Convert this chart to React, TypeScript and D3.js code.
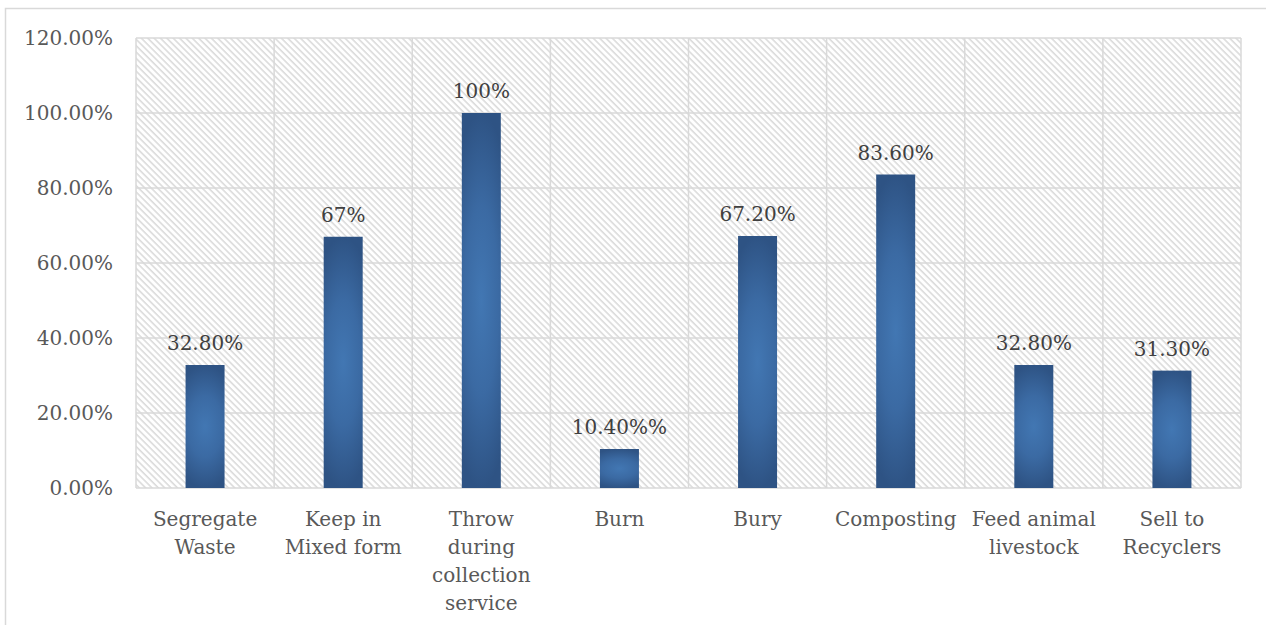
import React, { useEffect, useRef } from "react";
import * as d3 from "d3";

const categories: string[][] = [
  ["Segregate", "Waste"],
  ["Keep in", "Mixed form"],
  ["Throw", "during", "collection", "service"],
  ["Burn"],
  ["Bury"],
  ["Composting"],
  ["Feed animal", "livestock"],
  ["Sell to", "Recyclers"],
];
const values: number[] = [32.8, 67, 100, 10.4, 67.2, 83.6, 32.8, 31.3];
const valueLabels: string[] = ["32.80%", "67%", "100%", "10.40%%", "67.20%", "83.60%", "32.80%", "31.30%"];
const yTicks: number[] = [0, 20, 40, 60, 80, 100, 120];

const W = 1266;
const H = 625;
const FONT = "'DejaVu Serif', serif";

export default function App() {
  const ref = useRef<SVGSVGElement | null>(null);

  useEffect(() => {
    const svg = d3.select(ref.current);
    svg.selectAll("*").remove();

    const left = 136, right = 1241, top = 38, bottom = 488;
    const x = d3.scaleBand<number>().domain(d3.range(categories.length)).range([left, right]).paddingInner(0).paddingOuter(0);
    const y = d3.scaleLinear().domain([0, 120]).range([bottom, top]);
    const barW = 39;

    const defs = svg.append("defs");
    const pat = defs.append("pattern")
      .attr("id", "hatch")
      .attr("patternUnits", "userSpaceOnUse")
      .attr("width", 4.5)
      .attr("height", 4.5)
      .attr("patternTransform", "rotate(-45)");
    pat.append("rect").attr("width", 4.5).attr("height", 4.5).attr("fill", "#ffffff");
    pat.append("line").attr("x1", 1).attr("y1", 0).attr("x2", 1).attr("y2", 4.5)
      .attr("stroke", "#d9d9d9").attr("stroke-width", 1.5);

    // bar fill: light centre fading to dark, mostly toward top and bottom
    const grad = defs.append("radialGradient")
      .attr("id", "barGrad")
      .attr("cx", 0.5).attr("cy", 0.5).attr("r", 0.5)
      .attr("gradientTransform", "translate(0.5,0.5) scale(1.8,1) translate(-0.5,-0.5)");
    grad.append("stop").attr("offset", "0%").attr("stop-color", "#4277b3");
    grad.append("stop").attr("offset", "50%").attr("stop-color", "#3b6aa3");
    grad.append("stop").attr("offset", "100%").attr("stop-color", "#2e5384");

    // outer chart frame
    svg.append("rect")
      .attr("x", 5.5).attr("y", 8.5).attr("width", 1280).attr("height", 640)
      .attr("fill", "#ffffff").attr("stroke", "#d9d9d9").attr("stroke-width", 1.5);

    // plot area with diagonal hatch
    svg.append("rect")
      .attr("x", left).attr("y", top).attr("width", right - left).attr("height", bottom - top)
      .attr("fill", "url(#hatch)");

    const grid = svg.append("g").attr("stroke", "#d9d9d9").attr("stroke-width", 1.5);
    yTicks.forEach((t) => {
      grid.append("line").attr("x1", left).attr("x2", right).attr("y1", y(t)).attr("y2", y(t));
    });
    const bounds = [...x.domain().map((i) => x(i) as number), right];
    bounds.forEach((bx) => {
      grid.append("line").attr("x1", bx).attr("x2", bx).attr("y1", top).attr("y2", bottom);
    });

    // y tick labels
    svg.append("g").selectAll("text").data(yTicks).join("text")
      .attr("x", 113).attr("y", (d) => y(d))
      .attr("dy", "0.35em")
      .attr("text-anchor", "end")
      .attr("font-family", FONT).attr("font-size", 20).attr("fill", "#595959")
      .text((d) => d3.format(".2f")(d) + "%");

    // bars
    svg.append("g").selectAll("rect").data(values).join("rect")
      .attr("x", (_, i) => (x(i) as number) + x.bandwidth() / 2 - barW / 2)
      .attr("y", (d) => y(d))
      .attr("width", barW)
      .attr("height", (d) => bottom - y(d))
      .attr("fill", "url(#barGrad)");

    // value labels
    svg.append("g").selectAll("text").data(values).join("text")
      .attr("x", (_, i) => (x(i) as number) + x.bandwidth() / 2)
      .attr("y", (d) => y(d) - 15)
      .attr("text-anchor", "middle")
      .attr("font-family", FONT).attr("font-size", 20).attr("fill", "#404040")
      .text((_, i) => valueLabels[i]);

    // category labels
    const cat = svg.append("g");
    categories.forEach((lines, i) => {
      const cx = (x(i) as number) + x.bandwidth() / 2;
      const t = cat.append("text")
        .attr("x", cx)
        .attr("y", 526)
        .attr("text-anchor", "middle")
        .attr("font-family", FONT).attr("font-size", 20).attr("fill", "#595959");
      lines.forEach((ln, j) => {
        t.append("tspan")
          .attr("x", cx)
          .attr("y", 526 + j * 28)
          .text(ln);
      });
    });
  }, []);

  return (
    <svg
      ref={ref}
      width={W}
      height={H}
      style={{ position: "absolute", left: 0, top: 0, display: "block" }}
    />
  );
}
